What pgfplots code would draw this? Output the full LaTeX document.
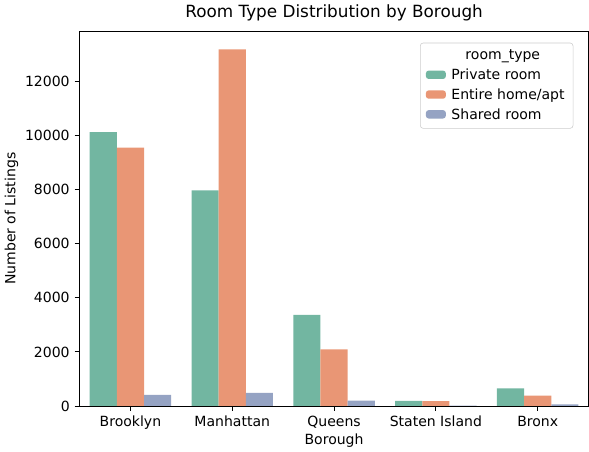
\documentclass[border=0pt]{standalone}
\usepackage{pgfplots}
\pgfplotsset{compat=1.18}
\usepackage{fontspec}
\setmainfont{DejaVu Sans}
\definecolor{cpriv}{HTML}{72B6A1}
\definecolor{cent}{HTML}{E99675}
\definecolor{cshar}{HTML}{95A3C3}
\begin{document}
\begin{tikzpicture}
\begin{axis}[
  scale only axis,
  width=363pt, height=267pt,
  ybar=0pt, bar width=0.2667,
  xmin=-0.5, xmax=4.5,
  ymin=0, ymax=13859,
  xtick={0,1,2,3,4},
  xticklabels={Brooklyn,Manhattan,Queens,Staten Island,Bronx},
  ytick={0,2000,4000,6000,8000,10000,12000},
  scaled y ticks=false,
  /pgf/number format/1000 sep={},
  /pgf/number format/assume math mode=true,
  tick align=outside, major tick length=3.5pt,
  tick style={black, line width=0.6pt},
  xtick pos=bottom, ytick pos=left,
  axis line style={line width=0.6pt},
  ticklabel style={font=\fontsize{10}{12}\selectfont},
  title={Room Type Distribution by Borough},
  title style={font=\fontsize{12}{14}\selectfont, yshift=-2pt},
  xlabel={Borough}, ylabel={Number of Listings},
  label style={font=\fontsize{10}{12}\selectfont},
  xlabel style={yshift=4pt},
  ylabel style={yshift=-2pt},
  legend style={at={(0.97,0.97)}, anchor=north east, font=\fontsize{10}{12}\selectfont,
    draw=black!20, rounded corners=2pt, inner xsep=4pt, inner ysep=3pt, row sep=1pt},
  legend cell align=left,
  legend image code/.code={\fill[#1] (0cm,-0.09cm) rectangle (0.5cm,0.12cm);},
]
\addlegendimage{empty legend}
\addlegendentry{\hspace{1.2em}room\_type}
\addplot[fill=cpriv, draw=none] coordinates {(0,10132) (1,7982) (2,3372) (3,188) (4,652)};
\addlegendentry{\hspace{0.2em}Private room}
\addplot[fill=cent, draw=none] coordinates {(0,9559) (1,13199) (2,2096) (3,176) (4,379)};
\addlegendentry{\hspace{0.2em}Entire home/apt}
\addplot[fill=cshar, draw=none] coordinates {(0,413) (1,480) (2,198) (3,9) (4,60)};
\addlegendentry{\hspace{0.2em}Shared room}
\end{axis}
\end{tikzpicture}
\end{document}
